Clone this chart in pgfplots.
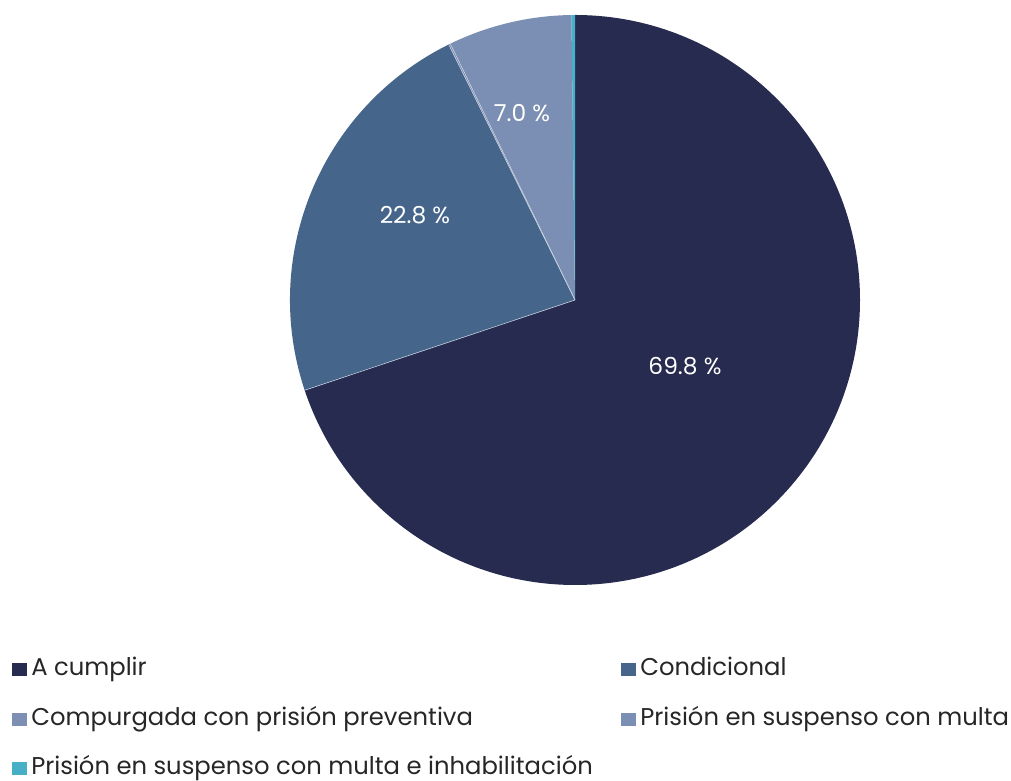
\documentclass[border=0pt]{standalone}
\usepackage{pgfplots}
\pgfplotsset{compat=1.18}
\usepackage{fontspec}
\setmainfont{Poppins}
\definecolor{cA}{HTML}{262B4F}
\definecolor{cB}{HTML}{46658B}
\definecolor{cC}{HTML}{7D8FB3}
\definecolor{cD}{HTML}{7B8FB4}
\definecolor{cE}{HTML}{47AFC6}
\newcommand\pieslice[3]{% start end colour (angles in degrees, clockwise)
  \fill[#3] (c) -- ++(#1:213.75pt) arc[start angle=#1, end angle=#2, radius=213.75pt] -- cycle;}
% values (percent), clockwise from 12 o'clock
\pgfmathsetmacro\tot{69.8+22.8+0.1+7.0+0.2}
\pgfmathsetmacro\aA{90}
\pgfmathsetmacro\aB{\aA-69.8/\tot*360}
\pgfmathsetmacro\aC{\aB-22.8/\tot*360}
\pgfmathsetmacro\aD{\aC-0.1/\tot*360}
\pgfmathsetmacro\aE{\aD-7.0/\tot*360}
\pgfmathsetmacro\aF{\aE-0.2/\tot*360}
\begin{document}%
\begin{tikzpicture}
\useasboundingbox (0,0) rectangle (758.25pt,585.75pt);
\begin{axis}[
  x=0.75pt, y=0.75pt, anchor=origin, at={(0,0)},
  xmin=0, xmax=1011, ymin=0, ymax=781,
  enlargelimits=false,
  hide axis, clip=false]
\addplot[draw=none, forget plot] coordinates {(0,0) (1011,781)};
\coordinate (c) at (axis cs:575,481);
\pieslice{\aA}{\aB}{cA}
\pieslice{\aB}{\aC}{cB}
\pieslice{\aC}{\aD}{cC}
\pieslice{\aD}{\aE}{cD}
\pieslice{\aE}{\aF}{cE}
\draw[white!60!cC, line width=0.4pt] (c) -- ++(\aB:213.75pt);
\draw[white!60!cC, line width=0.4pt] (c) -- ++(\aC:213.75pt);
\draw[white!60!cC, line width=0.4pt] (c) -- ++(\aD:213.75pt);
\node[text=white, font=\fontsize{17.5}{20}\selectfont] at (axis cs:685,415) {69.8 \%};
\node[text=white, font=\fontsize{17.5}{20}\selectfont] at (axis cs:415,566) {22.8 \%};
\node[text=white, font=\fontsize{17.5}{20}\selectfont] at (axis cs:522,668) {7.0 \%};
% legend
\fill[cA] (axis cs:12,105) rectangle (axis cs:27,118);
\node[anchor=base west, inner sep=0pt, font=\fontsize{18.2}{20}\selectfont, text=black!85] at (axis cs:31,105) {A cumplir};
\fill[cC] (axis cs:12,55) rectangle (axis cs:27,68);
\node[anchor=base west, inner sep=0pt, font=\fontsize{18.2}{20}\selectfont, text=black!85] at (axis cs:31,55) {Compurgada con prisión preventiva};
\fill[cE] (axis cs:12,6) rectangle (axis cs:27,19);
\node[anchor=base west, inner sep=0pt, font=\fontsize{18.2}{20}\selectfont, text=black!85] at (axis cs:31,6) {Prisión en suspenso con multa e inhabilitación};
\fill[cB] (axis cs:621,105) rectangle (axis cs:636,118);
\node[anchor=base west, inner sep=0pt, font=\fontsize{18.2}{20}\selectfont, text=black!85] at (axis cs:640,105) {Condicional};
\fill[cD] (axis cs:621,55) rectangle (axis cs:636,68);
\node[anchor=base west, inner sep=0pt, font=\fontsize{18.2}{20}\selectfont, text=black!85] at (axis cs:640,55) {Prisión en suspenso con multa};
\end{axis}
\end{tikzpicture}%
\end{document}
